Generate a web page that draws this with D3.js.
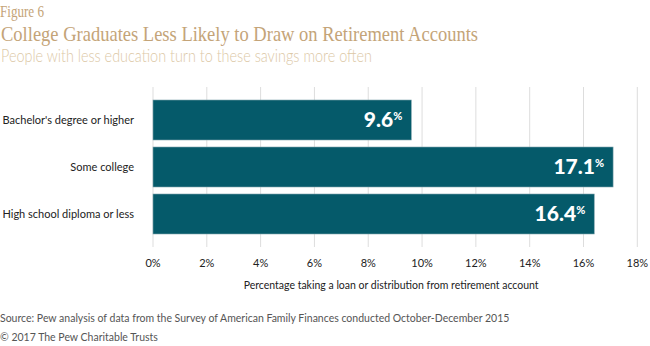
<!DOCTYPE html>
<html>
<head>
<meta charset="utf-8">
<script src="https://cdn.jsdelivr.net/npm/d3@7"></script>
<style>
  body { margin: 0; background: #fff; }
  text { font-family: Lato, "Noto Sans", sans-serif; }
</style>
</head>
<body>
<div id="chart"></div>
<script>
// Chart data
const categories = ["Bachelor's degree or higher", "Some college", "High school diploma or less"];
const values = [9.6, 17.1, 16.4];
const tickValues = [0, 2, 4, 6, 8, 10, 12, 14, 16, 18];

const width = 650, height = 346;
const margin = { left: 153, right: 13 };

const svg = d3.select("#chart")
  .append("svg")
  .attr("width", width)
  .attr("height", height);

// Headings
svg.append("text")
  .attr("x", 0).attr("y", 17)
  .style("font-family", "'Liberation Serif', serif")
  .style("font-size", "16px")
  .attr("textLength", 44)
  .attr("lengthAdjust", "spacingAndGlyphs")
  .attr("fill", "#c4a478")
  .text("Figure 6");

svg.append("text")
  .attr("x", 1).attr("y", 41)
  .style("font-family", "'Liberation Serif', serif")
  .style("font-size", "22px")
  .attr("textLength", 477)
  .attr("lengthAdjust", "spacingAndGlyphs")
  .attr("fill", "#c4a478")
  .text("College Graduates Less Likely to Draw on Retirement Accounts");

svg.append("text")
  .attr("x", 1).attr("y", 62)
  .style("font-size", "18px")
  .style("font-weight", 300)
  .attr("textLength", 371)
  .attr("lengthAdjust", "spacingAndGlyphs")
  .attr("fill", "#dcc8a6")
  .text("People with less education turn to these savings more often");

// Scales
const x = d3.scaleLinear().domain([0, 18]).range([margin.left, width - margin.right + 0.3]);
const y = d3.scaleBand()
  .domain(categories)
  .range([100, 234])
  .paddingInner(0.149);

// Gridlines
svg.append("g")
  .selectAll("line")
  .data(tickValues)
  .enter()
  .append("line")
  .attr("x1", (d) => x(d)).attr("x2", (d) => x(d))
  .attr("y1", 87).attr("y2", 247)
  .attr("stroke", "#dddddd")
  .attr("stroke-width", 1);

// Tick labels
svg.append("g")
  .selectAll("text")
  .data(tickValues)
  .enter()
  .append("text")
  .attr("x", (d) => x(d))
  .attr("y", 267)
  .attr("text-anchor", "middle")
  .style("font-size", "11px")
  .attr("fill", "#222")
  .text((d) => d + "%");

// Axis title
svg.append("text")
  .attr("x", x(9) - 4)
  .attr("y", 289)
  .attr("text-anchor", "middle")
  .style("font-size", "11px")
  .attr("textLength", 295)
  .attr("lengthAdjust", "spacingAndGlyphs")
  .attr("fill", "#222")
  .text("Percentage taking a loan or distribution from retirement account");

// Bars
svg.selectAll(".bar")
  .data(values)
  .enter()
  .append("rect")
  .attr("class", "bar")
  .attr("x", x(0))
  .attr("y", (d, i) => y(categories[i]))
  .attr("width", (d) => x(d) - x(0))
  .attr("height", y.bandwidth())
  .attr("fill", "#055a6a")
  .attr("stroke", "#7fa4ac")
  .attr("stroke-width", 0.6);

// Category labels
svg.selectAll(".cat")
  .data(categories)
  .enter()
  .append("text")
  .attr("class", "cat")
  .attr("x", 134)
  .attr("y", (d) => y(d) + y.bandwidth() / 2 + 4)
  .attr("text-anchor", "end")
  .style("font-size", "11px")
  .attr("fill", "#222")
  .text((d) => d);

// Value labels with small raised percent sign
const vl = svg.selectAll(".val")
  .data(values)
  .enter()
  .append("text")
  .attr("class", "val")
  .attr("x", (d) => x(d) - 9)
  .attr("y", (d, i) => y(categories[i]) + y.bandwidth() / 2 + 7)
  .attr("text-anchor", "end")
  .attr("fill", "#fff")
  .style("font-weight", 900)
  .style("font-size", "21px");
vl.append("tspan").text((d) => d.toFixed(1));
vl.append("tspan")
  .attr("dy", -7)
  .style("font-size", "11px")
  .text("%");

// Footer
svg.append("text")
  .attr("x", 0).attr("y", 322)
  .style("font-size", "10.5px")
  .attr("fill", "#555")
  .text("Source: Pew analysis of data from the Survey of American Family Finances conducted October-December 2015");

svg.append("text")
  .attr("x", 0).attr("y", 341)
  .style("font-size", "10.5px")
  .attr("fill", "#555")
  .text("© 2017 The Pew Charitable Trusts");
</script>
</body>
</html>
